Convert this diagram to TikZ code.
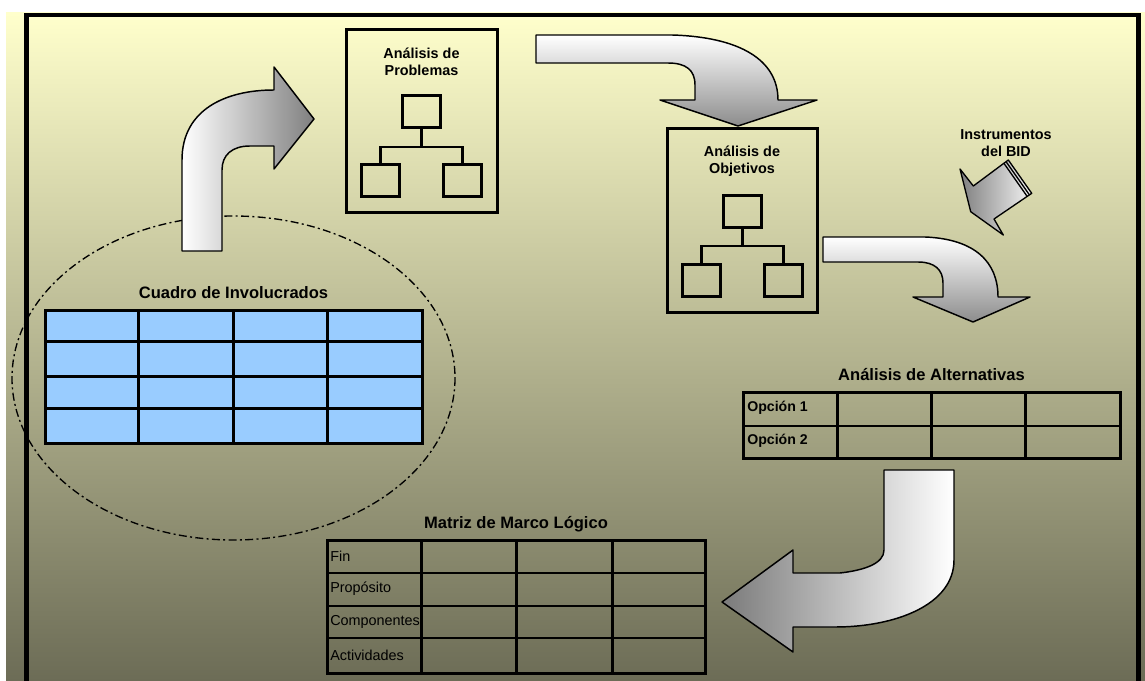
\documentclass[tikz,border=0pt]{standalone}
\usepackage{fontspec}
\setmainfont{Liberation Sans}
\usepackage{tikz}
\usetikzlibrary{fit, calc, positioning}
\definecolor{bgtop}{RGB}{255,255,204}
\definecolor{bgmid}{RGB}{206,205,165}
\definecolor{bgbot}{RGB}{108,108,86}
\definecolor{cellblue}{RGB}{153,204,255}
\tikzset{
 stage/.style = {
    rectangle, draw, line width=2.25pt,
    inner sep=0pt},
 unit/.style = {
    rectangle, draw, line width=2.25pt,
    minimum width=28.5pt, minimum height=24pt,
    inner sep=0pt},
 link/.style = {
    draw, line width=1.6pt},
 grid box/.style = {
    rectangle, draw, line width=2.25pt,
    inner sep=0pt},
 cell line/.style = {
    line width=2.25pt},
 row line/.style = {
    line width=1.4pt},
 title/.style = {
    font=\fontsize{12.4}{14}\selectfont\bfseries,
    inner sep=0pt, text depth=0pt},
 box label/.style = {
    font=\fontsize{10.8}{12.75}\selectfont\bfseries,
    align=center, inner sep=0pt},
 row label/.style = {
    anchor=west, inner sep=0pt,
    font=\fontsize{10.8}{12}\selectfont},
 bent arrow/.style = {
    draw, line width=1.1pt, line join=round},
}

\begin{document}
\begin{tikzpicture}[x=0.75pt, y=-0.75pt]
\useasboundingbox (0,0) rectangle (1145,681);

% Background and frame
\shade[top color=bgtop, middle color=bgmid, bottom color=bgbot] (6,13) rectangle (1145,681);
\draw[line width=3.4pt] (26.5,681) -- (26.5,15) -- (1138.5,15) -- (1138.5,681);

% Stakeholders
\draw[line width=1pt, dash pattern=on 6pt off 2.5pt on 1.5pt off 2.5pt] (233.5,378) ellipse [x radius=221.5, y radius=162];
\node[grid box, fill=cellblue, fit={(45,310) (422,443)}] (involucrados) {};
\foreach \x in {138,233,327}
    \draw[cell line] (\x,310) -- (\x,443);
\foreach \y in {341,376,408}
    \draw[cell line] (45,\y) -- (422,\y);
\node[title, above=7.5pt of involucrados] (involucrados title) {Cuadro de Involucrados};

% Problem tree
\node[stage, fit={(346,30) (497,212)}] (problemas) {};
\node[box label] (problemas label) at (421.5,61.5) {Análisis de\\Problemas};
\node[unit] (ptop) at (421.5,111.5) {};
\node[unit, below left=25.5pt and 0pt of ptop] (pleft) {};
\node[unit, below right=25.5pt and 0pt of ptop] (pright) {};
\coordinate (pbar) at ($(ptop.south)+(0,18)$);
\draw[link] (ptop.south) -- (pbar);
\draw[link] (pleft.north) |- (pbar) -| (pright.north);

% Objective tree
\node[stage, fit={(667,129) (817,312)}] (objetivos) {};
\node[box label] (objetivos label) at (742,161) {Análisis de\\Objetivos};
\node[unit] (otop) at (742.5,211.5) {};
\node[unit, below left=25.5pt and 0pt of otop] (oleft) {};
\node[unit, below right=25.5pt and 0pt of otop] (oright) {};
\coordinate (obar) at ($(otop.south)+(0,17)$);
\draw[link] (otop.south) -- (obar);
\draw[link] (oleft.north) |- (obar) -| (oright.north);

% Alternatives
\node[grid box, fit={(743,392) (1120,458)}] (alternativas) {};
\foreach \x in {837,931,1025}
    \draw[cell line] (\x,392) -- (\x,458);
\draw[row line] (743,426) -- (1120,426);
\node[title, above=7.5pt of alternativas] (alternativas title) {Análisis de Alternativas};
\node[row label, font=\fontsize{10.6}{12}\selectfont\bfseries] (opcion1) at (747,408) {Opción 1};
\node[row label, font=\fontsize{10.6}{12}\selectfont\bfseries] (opcion2) at (747,441) {Opción 2};

% Logframe
\node[grid box, fit={(327,540) (705,673)}] (matriz) {};
\foreach \x in {421,516,612}
    \draw[cell line] (\x,540) -- (\x,673);
\foreach \y in {573,606,638}
    \draw[row line] (327,\y) -- (705,\y);
\node[title, above=7.5pt of matriz] (matriz title) {Matriz de Marco Lógico};
\node[row label] (fin) at (330,556) {Fin};
\node[row label] (proposito) at (330,589) {Propósito};
\node[row label] (componentes) at (330,622) {Componentes};
\node[row label] (actividades) at (330,655) {Actividades};

% Block arrows
\draw[bent arrow, left color=white, right color=gray] (182,251) -- (182,160)
    .. controls (182,110) and (225,90) .. (274,90) -- (274,67) -- (314,119) -- (274,169) -- (274,146) -- (250,146)
    .. controls (232,146) and (222,155) .. (222,170) -- (222,251) -- cycle;
\draw[bent arrow, top color=white, bottom color=black!45] (536,35) -- (672,35)
    .. controls (740,37) and (778,60) .. (778,100) -- (817,100) -- (738,126) -- (660,100) -- (695,100) -- (695,85)
    .. controls (695,70) and (686,63) .. (668,63) -- (536,63) -- cycle;
\draw[bent arrow, top color=white, bottom color=black!45] (823,237) -- (925,237)
    .. controls (975,239) and (998,262) .. (998,297) -- (1030,297) -- (973,322) -- (913,297) -- (943,297) -- (943,283)
    .. controls (943,270) and (935,262) .. (918,262) -- (823,262) -- cycle;
\draw[bent arrow, left color=black!52, right color=white] (884,470) -- (954,470) -- (954,560)
    .. controls (954,605) and (895,627) .. (835,627) -- (793,627) -- (793,652) -- (722,602) -- (793,550) -- (793,573) -- (840,573)
    .. controls (866,570) and (884,563) .. (884,550) -- cycle;

% BID
\node[box label] (bid) at (1006,143) {Instrumentos\\del BID};
\draw[bent arrow, line width=1pt, left color=black!50, right color=black!5] (960,169) -- (970.7,211.7) -- (1003.3,235) -- (994,219)
    -- (1031.7,193.3) -- (1008.3,160) -- (973.3,186) -- cycle;
\draw[line width=1pt] (1006.1,161.7) -- (1029.5,195);
\draw[line width=1pt] (1003.9,163.3) -- (1027.3,196.6);
\end{tikzpicture}
\end{document}
